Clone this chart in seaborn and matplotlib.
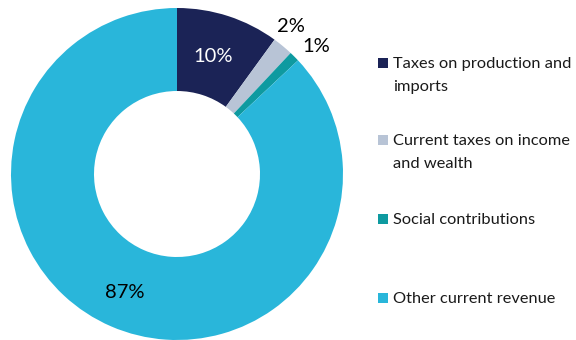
import matplotlib
matplotlib.use("Agg")
import matplotlib.pyplot as plt
from matplotlib.patches import Rectangle
import seaborn as sns

# Composition of government current revenue (share of total, %)
categories = [
    "Taxes on production and\nimports",
    "Current taxes on income\nand wealth",
    "Social contributions",
    "Other current revenue",
]
shares = [10, 2, 1, 87]
colors = ["#1B2356", "#B8C4D6", "#0E9AA0", "#29B6DA"]

sns.set_theme(style="white")
plt.rcParams["font.family"] = ["Lato", "DejaVu Sans"]

fig = plt.figure(figsize=(5.76, 3.40), dpi=100)
W, H = 576, 340

# Donut occupies the left part of the figure
cx, cy, R = 177, 174, 166
ax = fig.add_axes([(cx - R) / W, 1 - (cy + R) / H, 2 * R / W, 2 * R / H])
wedges, _ = ax.pie(
    shares,
    colors=sns.color_palette(colors),
    startangle=90,
    counterclock=False,
    radius=1.0,
    wedgeprops=dict(width=0.5, linewidth=0),
)
ax.set_xlim(-1, 1)
ax.set_ylim(-1, 1)
ax.set_aspect("equal")
ax.axis("off")

# Percentage labels
label_pos = [(213, 57), (291, 27), (316, 46), (125, 292)]
label_colors = ["white", "black", "black", "black"]
for (px, py), val, col in zip(label_pos, shares, label_colors):
    fig.text(px / W, 1 - py / H, f"{val}%", color=col, fontsize=14.5,
             ha="center", va="center")

# Legend: swatch aligned to the first text line, wrapped lines 23 px apart
legend_y = [63, 140, 219, 298]
for (ly, lab, col) in zip(legend_y, categories, colors):
    fig.patches.append(Rectangle((378 / W, 1 - (ly + 5) / H), 10 / W, 10 / H,
                                 transform=fig.transFigure, facecolor=col,
                                 edgecolor="none"))
    for i, line in enumerate(lab.split("\n")):
        fig.text(393 / W, 1 - (ly + 1 + 23 * i) / H, line, fontsize=11.8,
                 color="#1a1a1a", ha="left", va="center")

fig.savefig("out.png", dpi=100)
